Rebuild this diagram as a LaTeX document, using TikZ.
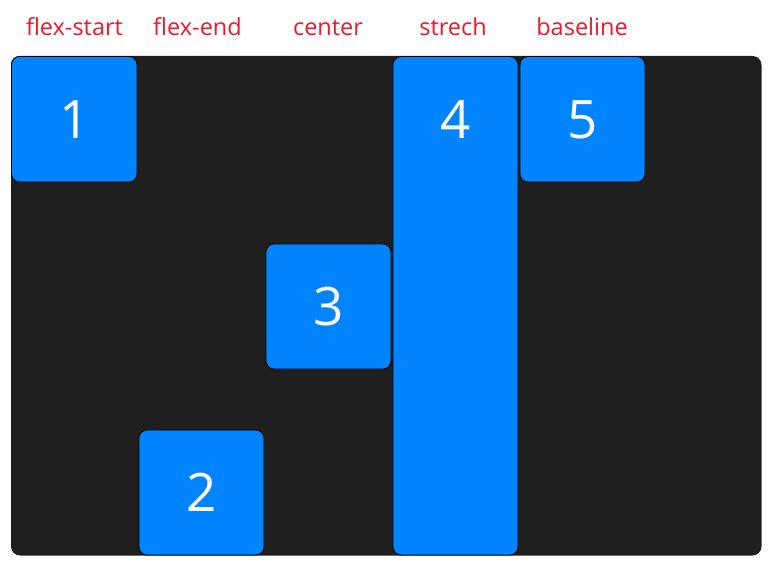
\documentclass[tikz,border=0pt]{standalone}
\usepackage{fontspec}
\setmainfont{Open Sans}
\definecolor{panel}{RGB}{31,31,31}
\definecolor{boxblue}{RGB}{0,132,255}
\definecolor{lblred}{RGB}{240,24,40}
\begin{document}
\begin{tikzpicture}[x=1pt,y=-1pt,
  item/.style={draw=black,line width=0.9pt,fill=boxblue,rounded corners=8pt},
  num/.style={text=white,font=\fontsize{53}{53}\selectfont,anchor=center,inner sep=0pt},
  lbl/.style={text=lblred,font=\fontsize{23.5}{24}\selectfont,anchor=base,inner sep=0pt}]
\useasboundingbox (0,0) rectangle (780,567);
\fill[panel,rounded corners=9pt] (11,56) rectangle (761.5,555.5);
% labels
\node[lbl] (l1) at (74.5,35.5) {flex-start};
\node[lbl] (l2) at (197.5,35.5) {flex-end};
\node[lbl] (l3) at (328,35.5) {center};
\node[lbl] (l4) at (453,35.5) {strech};
\node[lbl] (l5) at (582,35.5) {baseline};
% items
\draw[item] (11.5,56.5) rectangle (137,182);
\node[num] (n1) at (74.3,119.5) {1};
\draw[item] (139,430) rectangle (264,555);
\node[num] (n2) at (201.5,492.5) {2};
\draw[item] (266,244) rectangle (391,369);
\node[num] (n3) at (328.5,306.5) {3};
\draw[item] (393,56.5) rectangle (518,555);
\node[num] (n4) at (455.5,119.5) {4};
\draw[item] (520,56.5) rectangle (645,182);
\node[num] (n5) at (582.5,119.5) {5};
\end{tikzpicture}
\end{document}
